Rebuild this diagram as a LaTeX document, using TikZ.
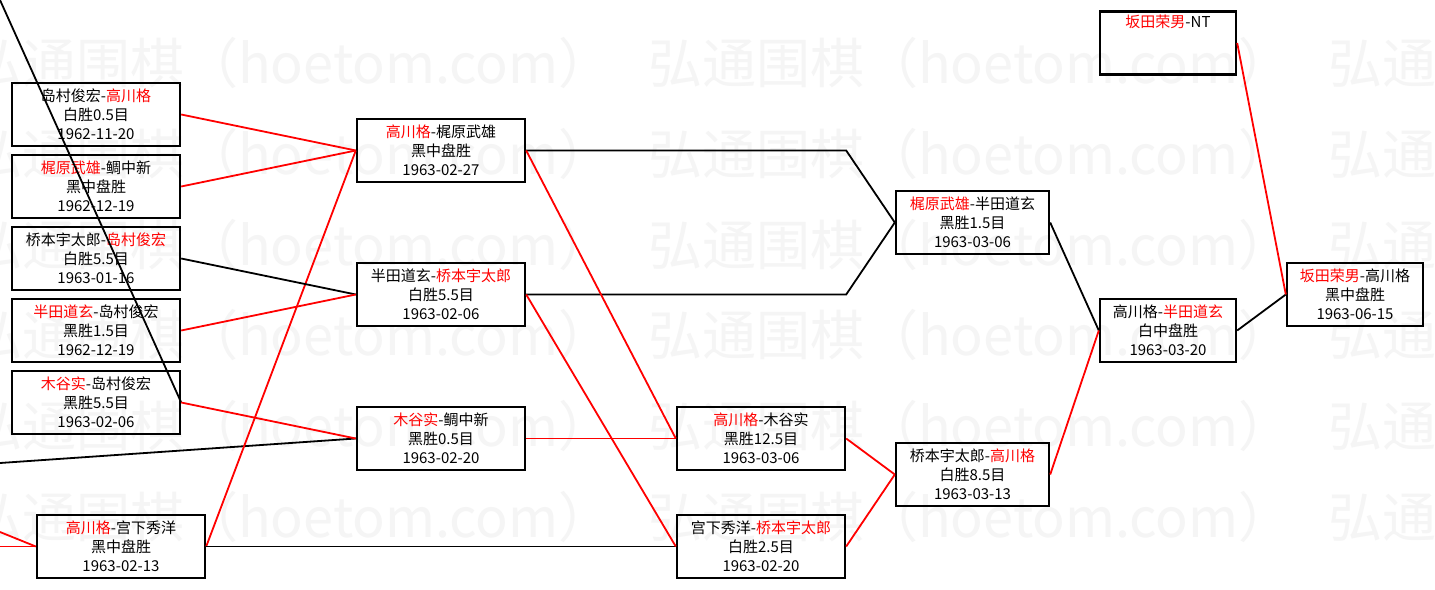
\documentclass[tikz,border=0pt]{standalone}
\usepackage{fontspec}
\setmainfont{Noto Sans CJK SC}
\newcommand{\redname}[1]{\textcolor{red}{#1}}
\tikzset{
  game/.style={draw, line width=2.4pt, minimum width=168pt, minimum height=63pt,
    inner sep=0pt, align=center, font=\fontsize{15}{19}\selectfont},
  narrow/.style={minimum width=153pt},
  slim/.style={minimum width=136pt},
  winline/.style={red, line width=1.8pt},
  lossline/.style={black, line width=1.8pt},
  wmark/.style={anchor=west, inner sep=0pt, text=black!4, font=\fontsize{54}{56}\selectfont}
}
\begin{document}
\begin{tikzpicture}[x=1pt, y=-1pt]
      \clip (0,0) rectangle (1435,589);
      \fill[white] (0,0) rectangle (1435,589);
      % watermark
      \foreach \wy [count=\i] in {63,154,245,335,426,517}
        \foreach \wx [count=\j] in {-32,648,1328}
          \node[wmark] (wm\i\j) at (\wx,\wy) {弘通围棋（hoetom.com）};
      % first round
      \node[game] (g1a) at (96,114.5) {岛村俊宏-\redname{高川格}\\白胜0.5目\\1962-11-20};
      \node[game] (g1b) at (96,186.5) {\redname{梶原武雄}-鲷中新\\黑中盘胜\\1962-12-19};
      \node[game] (g1c) at (96,258.5) {桥本宇太郎-\redname{岛村俊宏}\\白胜5.5目\\1963-01-16};
      \node[game] (g1d) at (96,330.5) {\redname{半田道玄}-岛村俊宏\\黑胜1.5目\\1962-12-19};
      \node[game] (g1e) at (96,402.5) {\redname{木谷实}-岛村俊宏\\黑胜5.5目\\1963-02-06};
      \node[game] (g1f) at (121,546.5) {\redname{高川格}-宫下秀洋\\黑中盘胜\\1963-02-13};
      % second round
      \node[game] (g2a) at (441,150.5) {\redname{高川格}-梶原武雄\\黑中盘胜\\1963-02-27};
      \node[game] (g2b) at (441,294.5) {半田道玄-\redname{桥本宇太郎}\\白胜5.5目\\1963-02-06};
      \node[game] (g2c) at (441,438.5) {\redname{木谷实}-鲷中新\\黑胜0.5目\\1963-02-20};
      % third round
      \node[game] (g3a) at (761,438.5) {\redname{高川格}-木谷实\\黑胜12.5目\\1963-03-06};
      \node[game] (g3b) at (761,546.5) {宫下秀洋-\redname{桥本宇太郎}\\白胜2.5目\\1963-02-20};
      % semifinals
      \node[game, narrow] (g4a) at (972.5,222.5) {\redname{梶原武雄}-半田道玄\\黑胜1.5目\\1963-03-06};
      \node[game, narrow] (g4b) at (972.5,474.5) {桥本宇太郎-\redname{高川格}\\白胜8.5目\\1963-03-13};
      % final and challenge
      \node[game, slim] (g5) at (1168,330.5) {高川格-\redname{半田道玄}\\白中盘胜\\1963-03-20};
      \node[game, slim] (g6) at (1355,294.5) {\redname{坂田荣男}-高川格\\黑中盘胜\\1963-06-15};
      \node[game, slim] (g0) at (1168,43) {\redname{坂田荣男}-NT\\\strut\\\strut}; % holder
      % free ends at the left edge
      \coordinate (offa) at (0,0);
      \coordinate (offb) at (0,463);
      \coordinate (offc) at (0,532);
      \coordinate (offd) at (0,546.5);
      % connectors
      \draw[lossline] (offa) -- (g1e.east);
      \draw[lossline] (offb) -- (g2c.west);
      \draw[winline] (offc) -- (g1f.west);
      \draw[winline] (offd) -- (g1f.west);
      \draw[winline] (g1a.east) -- (g2a.west);
      \draw[winline] (g1b.east) -- (g2a.west);
      \draw[winline] (g1f.east) -- (g2a.west);
      \draw[lossline] (g1c.east) -- (g2b.west);
      \draw[winline] (g1d.east) -- (g2b.west);
      \draw[winline] (g1e.east) -- (g2c.west);
      \draw[lossline] (g1f.east) -- (g3b.west);
      \draw[lossline] (g2a.east) -- (g2a.east -| g3a.east) -- (g4a.west);
      \draw[lossline] (g2b.east) -- (g2b.east -| g3a.east) -- (g4a.west);
      \draw[winline] (g2a.east) -- (g3a.west);
      \draw[winline] (g2b.east) -- (g3b.west);
      \draw[winline] (g2c.east) -- (g3a.west);
      \draw[winline] (g3a.east) -- (g4b.west);
      \draw[winline] (g3b.east) -- (g4b.west);
      \draw[lossline] (g4a.east) -- (g5.west);
      \draw[winline] (g4b.east) -- (g5.west);
      \draw[lossline] (g5.east) -- (g6.west);
      \draw[winline] (g0.east) -- (g6.west);
\end{tikzpicture}
\end{document}
